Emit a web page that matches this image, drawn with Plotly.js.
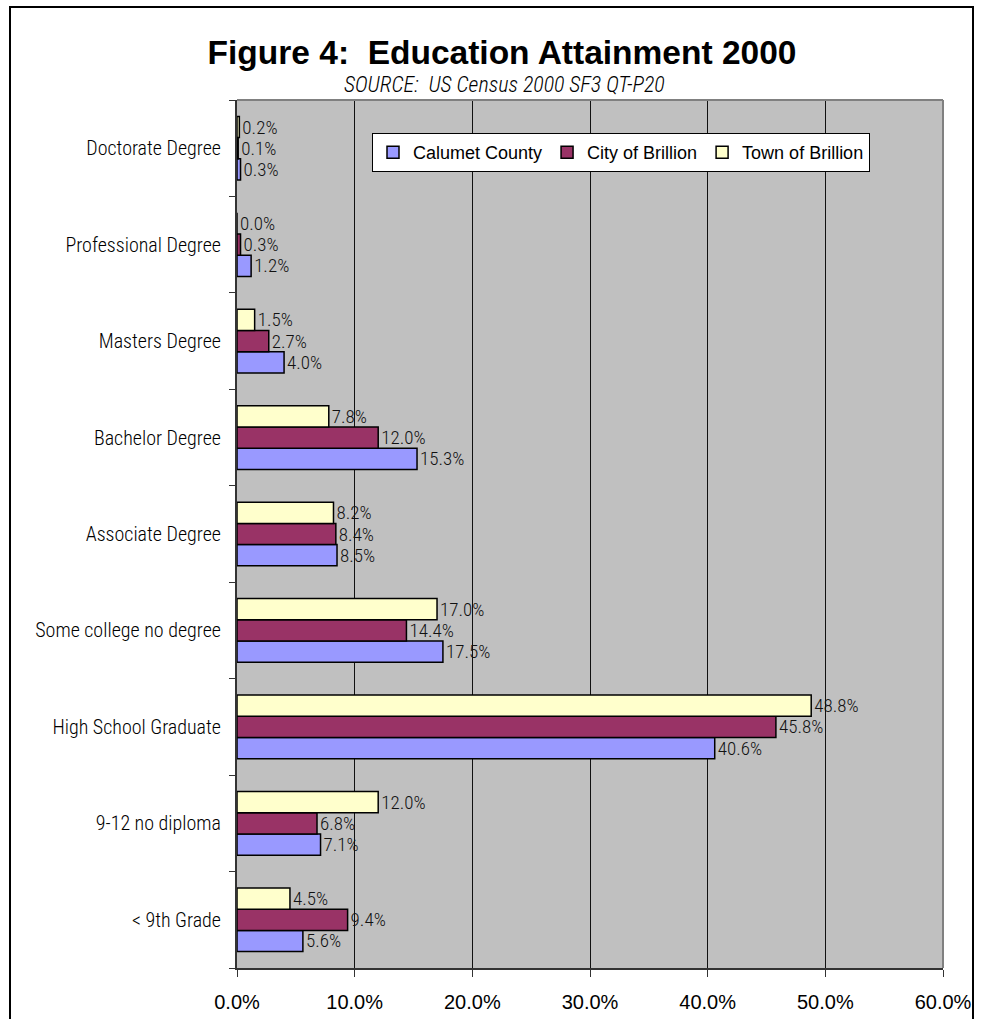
<!DOCTYPE html>
<html><head><meta charset="utf-8">
<script src="https://cdn.plot.ly/plotly-3.0.1.min.js"></script>
<style>html,body{margin:0;padding:0;background:#fff}#chart{width:982px;height:1019px}</style>
</head><body><div id="chart"></div>
<script>
const categories = ["< 9th Grade","9-12 no diploma","High School Graduate","Some college no degree","Associate Degree","Bachelor Degree","Masters Degree","Professional Degree","Doctorate Degree"];
const calumetCounty = [5.6, 7.1, 40.6, 17.5, 8.5, 15.3, 4.0, 1.2, 0.3];
const cityOfBrillion = [9.4, 6.8, 45.8, 14.4, 8.4, 12.0, 2.7, 0.3, 0.1];
const townOfBrillion = [4.5, 12.0, 48.8, 17.0, 8.2, 7.8, 1.5, 0.0, 0.2];
const xTicks = [0, 10, 20, 30, 40, 50, 60];
const xTickLabels = ["0.0%","10.0%","20.0%","30.0%","40.0%","50.0%","60.0%"];

const narrow = "Roboto Condensed, Liberation Sans Narrow, Arial Narrow, sans-serif";
const arial = "Liberation Sans, Arial, sans-serif";
function tr(name, vals, color){
  return {type:'bar', orientation:'h', name:name, y:categories, x:vals,
    marker:{color:color, line:{color:'#000', width:1.5}},
    text: vals.map(v=>v.toFixed(1)+'%'), textposition:'outside', cliponaxis:false,
    constraintext:'none',
    textfont:{family:narrow, size:19, weight:300, color:'#111'}, hoverinfo:'skip'};
}
const data = [
  tr('Calumet County', calumetCounty, '#9999FF'),
  tr('City of Brillion', cityOfBrillion, '#993366'),
  tr('Town of Brillion', townOfBrillion, '#FFFFCC')
];
const L=237, R=943, T=100, B=968, W=982, H=1019;
const pw=R-L, ph=B-T;
const px = x => (x-L)/pw, py = y => (B-y)/ph;
const layout = {
  width:W, height:H, paper_bgcolor:'#fff', plot_bgcolor:'#C0C0C0',
  margin:{l:L, r:W-R, t:T, b:H-B, pad:0},
  barmode:'group', bargap:0.34, bargroupgap:0,
  showlegend:true,
  legend:{orientation:'h', x:px(372), y:py(133), xanchor:'left', yanchor:'top',
    bgcolor:'#fff', bordercolor:'#000', borderwidth:1,
    font:{family:arial, size:18, color:'#000'},
    traceorder:'normal', itemwidth:30},
  title:{text:'<b>Figure 4:  Education Attainment 2000</b>', x:px(502), xref:'paper', xanchor:'center',
    y:1-52/H, yanchor:'middle', yref:'container',
    font:{family:arial, size:33.5, color:'#000'}},
  xaxis:{range:[0,60], tickvals:xTicks, ticktext:xTickLabels, showgrid:true, gridcolor:'#111', gridwidth:1,
    zeroline:false, showline:true, linecolor:'#333', linewidth:2, ticks:'outside', ticklen:7, tickcolor:'#333',
    ticklabelstandoff:8,
    tickfont:{family:arial, size:20, color:'#000'}, fixedrange:true},
  yaxis:{type:'category', tickson:'boundaries', ticks:'outside', ticklen:6, tickcolor:'#333',
    showline:true, linecolor:'#333', linewidth:2, showgrid:false, zeroline:false,
    ticklabelstandoff:10,
    tickfont:{family:narrow, size:20, weight:300, color:'#000'}, fixedrange:true},
  annotations:[{text:'<i>SOURCE:  US Census 2000 SF3 QT-P20</i>', xref:'paper', yref:'paper',
    x:px(504), y:py(84), xanchor:'center', yanchor:'middle', showarrow:false,
    font:{family:narrow, size:22, weight:300, color:'#000'}}],
  shapes:[
    {type:'line', xref:'paper', yref:'paper', x0:0, x1:1, y0:1, y1:1, line:{color:'#808080', width:2}, layer:'above'},
    {type:'line', xref:'paper', yref:'paper', x0:1, x1:1, y0:0, y1:1, line:{color:'#808080', width:2}, layer:'above'},
    {type:'rect', xref:'paper', yref:'paper', x0:px(10), x1:px(973), y0:py(1040), y1:py(7),
    line:{color:'#000', width:2}, fillcolor:'rgba(0,0,0,0)', layer:'above'}]
};
Plotly.newPlot('chart', data, layout, {displayModeBar:false, staticPlot:true});
</script></body></html>
